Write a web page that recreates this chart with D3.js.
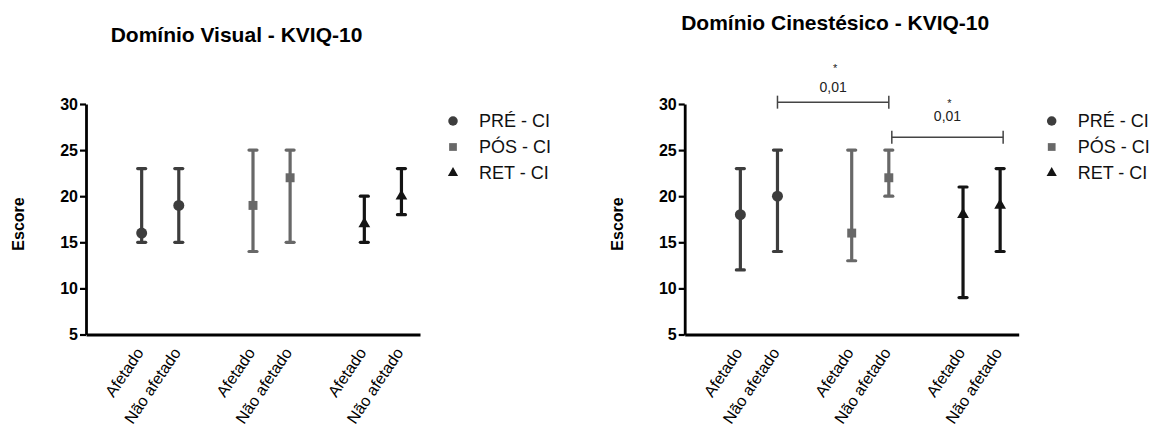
<!DOCTYPE html>
<html>
<head>
<meta charset="utf-8">
<script src="https://cdn.jsdelivr.net/npm/d3@7"></script>
<style>
  body { margin: 0; background: #fff; }
  svg { display: block; font-family: "Liberation Sans", Arial, sans-serif; }
</style>
</head>
<body>
<svg id="chart" width="1152" height="428"></svg>
<script>
// series and categories
const groups = ["PRÉ - CI", "PÓS - CI", "RET - CI"];
const sides = ["Afetado", "Não afetado"];
const yTicks = [5, 10, 15, 20, 25, 30];

// Domínio Visual: [Afetado, Não afetado] per group
const visualMedian = [[16, 19], [19, 22], [17, 20]];
const visualMin = [[15, 15], [14, 15], [15, 18]];
const visualMax = [[23, 23], [25, 25], [20, 23]];

// Domínio Cinestésico
const kinMedian = [[18, 20], [16, 22], [18, 19]];
const kinMin = [[12, 14], [13, 20], [9, 14]];
const kinMax = [[23, 25], [25, 25], [21, 23]];

// comparisons drawn on the kinesthetic panel: [group, side] pairs
const kinComparisons = [
    { from: [0, 1], to: [1, 1], p: "0,01", mark: "*" },
    { from: [1, 1], to: [2, 1], p: "0,01", mark: "*" }
];

const groupColors = ["#3d3d3d", "#686868", "#141414"];
const groupSymbols = [d3.symbolCircle, d3.symbolSquare, d3.symbolTriangle];
const symbolSizes = [95, 80, 60];

const svg = d3.select("#chart");
const W = 334, H = 230.5;

function slotKey(g, s) { return g + "-" + s; }

function drawPanel(opts) {
    const g = svg.append("g").attr("transform", `translate(${opts.left},104)`);

    const slots = [];
    groups.forEach((grp, gi) => {
        slots.push(slotKey(gi, 0), slotKey(gi, 1));
        if (gi < groups.length - 1) slots.push("gap" + gi);
    });

    const x = d3.scaleBand().domain(slots).range([0, W])
        .paddingInner(0).paddingOuter(0.5).align(1);
    const cx = k => x(k) + x.bandwidth() / 2;
    const y = d3.scaleLinear().domain([5, 30]).range([H, 0]);

    // title
    svg.append("text")
        .attr("x", opts.left + W / 2 - 16.5)
        .attr("y", opts.titleY)
        .attr("text-anchor", "middle")
        .attr("font-size", 21).attr("font-weight", "bold")
        .text(opts.title);

    // y axis
    const ya = g.append("g")
        .call(d3.axisLeft(y).tickValues(yTicks).tickSize(6).tickSizeOuter(0).tickPadding(2));
    ya.select(".domain").attr("stroke", "#000").attr("stroke-width", 2.8);
    ya.selectAll(".tick line").attr("stroke", "#000").attr("stroke-width", 2.2);
    ya.selectAll(".tick text")
        .attr("font-size", 16).attr("font-weight", "bold").attr("fill", "#000")
        .attr("font-family", "Liberation Sans, Arial, sans-serif");

    // x axis
    const realSlots = slots.filter(k => !k.startsWith("gap"));
    const xa = g.append("g").attr("transform", `translate(0,${H})`)
        .call(d3.axisBottom(x).tickValues(realSlots).tickSize(0).tickSizeOuter(0)
            .tickFormat(k => sides[+k.split("-")[1]]));
    xa.select(".domain").attr("stroke", "#000").attr("stroke-width", 2.8);
    xa.selectAll(".tick text")
        .attr("font-size", 16).attr("fill", "#000")
        .attr("font-family", "Liberation Sans, Arial, sans-serif")
        .attr("text-anchor", "end")
        .attr("y", 0).attr("dy", "0.35em")
        .attr("transform", "translate(-2,15) rotate(-56)");

    // y label
    svg.append("text")
        .attr("transform", `translate(${opts.left - 62},${104 + 120}) rotate(-90)`)
        .attr("text-anchor", "middle")
        .attr("font-size", 16).attr("font-weight", "bold")
        .text("Escore");

    // error bars + medians
    groups.forEach((grp, gi) => {
        sides.forEach((sd, si) => {
            const px = cx(slotKey(gi, si));
            const col = groupColors[gi];
            const lo = y(opts.min[gi][si]), hi = y(opts.max[gi][si]);
            g.append("line").attr("x1", px).attr("x2", px).attr("y1", lo).attr("y2", hi)
                .attr("stroke", col).attr("stroke-width", 3.2);
            [lo, hi].forEach(yy => {
                g.append("line").attr("x1", px - 4).attr("x2", px + 4).attr("y1", yy).attr("y2", yy)
                    .attr("stroke", col).attr("stroke-width", 3.2).attr("stroke-linecap", "round");
            });
            g.append("path")
                .attr("d", d3.symbol(groupSymbols[gi], symbolSizes[gi])())
                .attr("transform", `translate(${px},${y(opts.median[gi][si])})`)
                .attr("fill", col);
        });
    });

    // legend
    const legendRows = [121, 147, 173];
    groups.forEach((grp, gi) => {
        const lx = opts.left + 367;
        svg.append("path")
            .attr("d", d3.symbol(groupSymbols[gi], symbolSizes[gi] * 0.75)())
            .attr("transform", `translate(${lx},${legendRows[gi]})`)
            .attr("fill", groupColors[gi]);
        svg.append("text")
            .attr("x", lx + 26).attr("y", legendRows[gi]).attr("dy", "0.35em")
            .attr("font-size", 18).attr("fill", "#111")
            .text(grp);
    });

    // significance brackets
    (opts.comparisons || []).forEach((c, i) => {
        const lay = opts.bracketLayout[i];
        const x1 = cx(slotKey(...c.from)) + lay.dx;
        const x2 = cx(slotKey(...c.to)) + lay.dx;
        const by = y(lay.level);
        const b = g.append("g").attr("stroke", "#444").attr("stroke-width", 1.5);
        b.append("line").attr("x1", x1).attr("x2", x2).attr("y1", by).attr("y2", by);
        [x1, x2].forEach(xx => b.append("line").attr("x1", xx).attr("x2", xx)
            .attr("y1", by - 6.5).attr("y2", by + 6.5));
        g.append("text").attr("x", (x1 + x2) / 2).attr("y", by - lay.pGap).attr("dy", "0.35em")
            .attr("text-anchor", "middle").attr("font-size", 14).attr("fill", "#222")
            .text(c.p);
        g.append("text").attr("x", (x1 + x2) / 2 + 2).attr("y", by - 37).attr("dy", "0.6em")
            .attr("text-anchor", "middle").attr("font-size", 11).attr("fill", "#222")
            .text(c.mark);
    });
}

drawPanel({
    left: 86, titleY: 41.5, title: "Domínio Visual - KVIQ-10",
    median: visualMedian, min: visualMin, max: visualMax
});

drawPanel({
    left: 684.7, titleY: 29.5, title: "Domínio Cinestésico - KVIQ-10",
    median: kinMedian, min: kinMin, max: kinMax,
    comparisons: kinComparisons,
    bracketLayout: [{ level: 30.2, dx: 0, pGap: 15 }, { level: 26.4, dx: 3, pGap: 21 }]
});
</script>
</body>
</html>
